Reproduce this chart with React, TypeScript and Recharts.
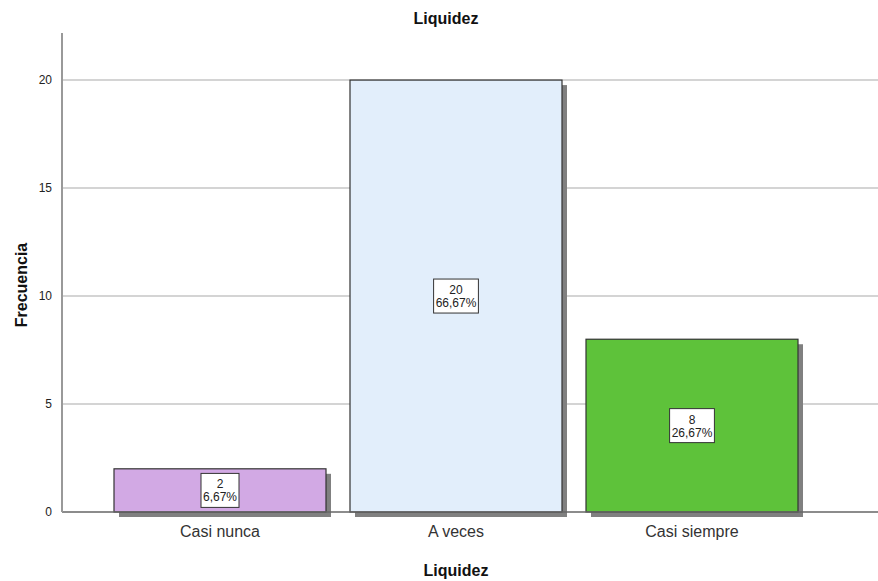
import React from 'react';
import { BarChart, Bar, XAxis, YAxis, CartesianGrid, LabelList, Cell } from 'recharts';

const categories = ['Casi nunca', 'A veces', 'Casi siempre'];
const counts = [2, 20, 8];
const percentLabels = ['6,67%', '66,67%', '26,67%'];
const barColors = ['#D2A9E4', '#E2EEFB', '#5EC23A'];
const yTicks = [0, 5, 10, 15, 20];
const gridValues = [5, 10, 15, 20];

const data = categories.map((c, i) => ({ name: c, value: counts[i], pct: percentLabels[i] }));

const FONT = 'Arial, "Liberation Sans", sans-serif';

const ShadowBar = (props: any) => {
  const { x, y, width, height, fill } = props;
  return (
    <g>
      <rect x={x + 5} y={y + 5} width={width} height={height} fill="#808080" />
      <rect x={x} y={y} width={width} height={height} fill={fill} stroke="#333" strokeWidth={1.2} />
    </g>
  );
};

const BoxLabel = (props: any) => {
  const { x, y, width, height, index } = props;
  const cx = x + width / 2;
  const cy = y + height / 2;
  const v = String(counts[index]);
  const p = percentLabels[index];
  const w = p.length * 6.8 + 4;
  return (
    <g>
      <rect x={cx - w / 2} y={cy - 17} width={w} height={34} fill="#fff" stroke="#333" strokeWidth={1} />
      <text x={cx} y={cy - 2} textAnchor="middle" fontSize={12} fontFamily={FONT} fill="#222">{v}</text>
      <text x={cx} y={cy + 11} textAnchor="middle" fontSize={12} fontFamily={FONT} fill="#222">{p}</text>
    </g>
  );
};

export default function App() {
  return (
    <div style={{ position: 'absolute', left: 0, top: 0, width: 878, height: 581, background: '#fff' }}>
      <BarChart
        width={878}
        height={581}
        data={data}
        margin={{ top: 33, right: 0, left: 0, bottom: 0 }}
        barSize={212}
      >
        <CartesianGrid vertical={false} horizontalValues={gridValues} stroke="#d4d4d4" strokeWidth={2} />
        <XAxis
          dataKey="name"
          height={69}
          padding={{ left: 40, right: 68 }}
          tickLine={false}
          axisLine={{ stroke: '#666', strokeWidth: 1.5 }}
          tick={{ fontSize: 16, fill: '#333', fontFamily: FONT }}
          tickMargin={8}
        />
        <YAxis
          width={62}
          domain={[0, 22.18]}
          ticks={yTicks}
          tickLine={false}
          axisLine={{ stroke: '#999', strokeWidth: 2 }}
          tick={{ fontSize: 12, fill: '#222', fontFamily: FONT }}
          tickMargin={4}
        />
        <Bar dataKey="value" isAnimationActive={false} shape={<ShadowBar />}>
          {data.map((d, i) => (
            <Cell key={d.name} fill={barColors[i]} />
          ))}
          <LabelList dataKey="value" content={<BoxLabel />} />
        </Bar>
        <text x={446} y={24} textAnchor="middle" fontSize={16} fontWeight="bold" fontFamily={FONT} fill="#111">Liquidez</text>
        <text x={456} y={576} textAnchor="middle" fontSize={16} fontWeight="bold" fontFamily={FONT} fill="#111">Liquidez</text>
        <text x={27} y={285} textAnchor="middle" fontSize={16} fontWeight="bold" fontFamily={FONT} fill="#111" transform="rotate(-90 27 285)">Frecuencia</text>
      </BarChart>
    </div>
  );
}
